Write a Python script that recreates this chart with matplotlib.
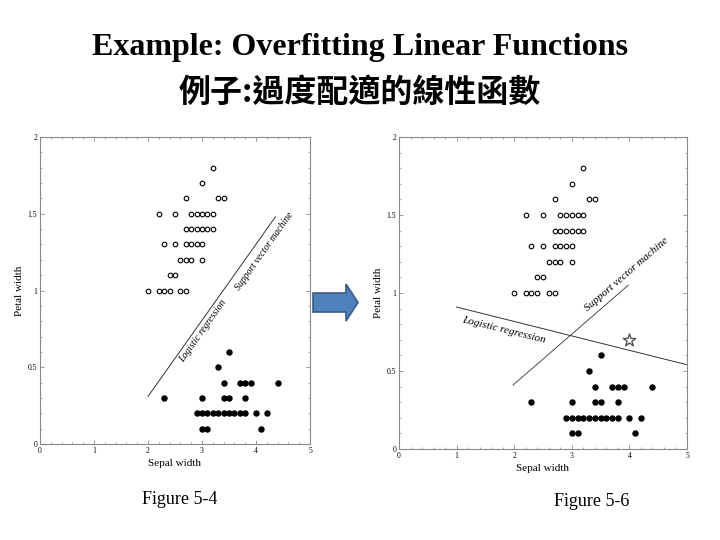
import numpy as np
import matplotlib
matplotlib.use("Agg")
import matplotlib.pyplot as plt
from matplotlib.patches import Polygon
from matplotlib.ticker import MultipleLocator

plt.rcParams['font.family'] = ['Liberation Serif', 'DejaVu Serif']

# Iris data: sepal width vs petal width
open_x = [3.2, 3.0, 2.7, 3.3, 3.4,
          2.2, 2.5, 2.8, 2.9, 3.0, 3.1, 3.2,
          2.7, 2.8, 2.9, 3.0, 3.1, 3.2,
          2.3, 2.5, 2.7, 2.8, 2.9, 3.0,
          2.6, 2.7, 2.8, 3.0,
          2.4, 2.5,
          2.0, 2.2, 2.3, 2.4, 2.6, 2.7]
open_y = [1.8, 1.7, 1.6, 1.6, 1.6,
          1.5, 1.5, 1.5, 1.5, 1.5, 1.5, 1.5,
          1.4, 1.4, 1.4, 1.4, 1.4, 1.4,
          1.3, 1.3, 1.3, 1.3, 1.3, 1.3,
          1.2, 1.2, 1.2, 1.2,
          1.1, 1.1,
          1.0, 1.0, 1.0, 1.0, 1.0, 1.0]

filled_x = [3.5, 3.3,
            3.4, 3.7, 3.8, 3.9, 4.4,
            2.3, 3.0, 3.4, 3.5, 3.8,
            2.9, 3.0, 3.1, 3.2, 3.3, 3.4, 3.5, 3.6, 3.7, 3.8, 4.0, 4.2,
            3.0, 3.1, 4.1]
filled_y = [0.6, 0.5,
            0.4, 0.4, 0.4, 0.4, 0.4,
            0.3, 0.3, 0.3, 0.3, 0.3,
            0.2, 0.2, 0.2, 0.2, 0.2, 0.2, 0.2, 0.2, 0.2, 0.2, 0.2, 0.2,
            0.1, 0.1, 0.1]

# decision boundaries
left_line_x = [2.0, 4.36]
left_line_y = [0.31, 1.48]
logit_x = [1.0, 5.0]
logit_y = [0.91, 0.54]
svm_x = [1.98, 3.98]
svm_y = [0.41, 1.05]
star_x, star_y = [4.0], [0.70]

W, H = 720, 540
fig = plt.figure(figsize=(7.2, 5.4), dpi=100)


def px_axes(left, top, right, bottom):
    return fig.add_axes([left / W, 1 - bottom / H, (right - left) / W, (bottom - top) / H])


def style(ax):
    ax.set_xlim(0, 5)
    ax.set_ylim(0, 2)
    for s in ax.spines.values():
        s.set_color('#888888')
        s.set_linewidth(0.8)
    ax.xaxis.set_major_locator(MultipleLocator(1))
    ax.xaxis.set_minor_locator(MultipleLocator(0.2))
    ax.yaxis.set_major_locator(MultipleLocator(0.5))
    ax.yaxis.set_minor_locator(MultipleLocator(0.1))
    ax.yaxis.set_major_formatter(plt.FuncFormatter(lambda v, p: f"{v:g}"))
    ax.tick_params(which='both', direction='in', top=True, right=True,
                   color='#888888', labelsize=5.5, pad=2)
    ax.tick_params(which='major', length=3, width=0.6)
    ax.tick_params(which='minor', length=1.5, width=0.5)
    ax.set_xlabel("Sepal width", fontsize=8, labelpad=3)
    ax.set_ylabel("Petal width", fontsize=8, labelpad=3)
    ax.scatter(open_x, open_y, s=11, facecolors='white', edgecolors='black', linewidths=0.8, zorder=3)
    ax.scatter(filled_x, filled_y, s=13, color='black', zorder=3)


def angle(ax, xs, ys):
    p = ax.transData.transform(np.column_stack([xs, ys]))
    return np.degrees(np.arctan2(p[1, 1] - p[0, 1], p[1, 0] - p[0, 0]))


# left: Figure 5-4
ax1 = px_axes(40, 137, 310, 444)
style(ax1)
ax1.plot(left_line_x, left_line_y, color='#333333', lw=0.7)
a1 = angle(ax1, left_line_x, left_line_y)
ax1.text(2.68, 0.52, "Logistic regression", rotation=a1, rotation_mode='anchor',
         fontsize=7, style='italic', ha='left', va='bottom')
ax1.text(3.72, 0.99, "Support vector machine", rotation=a1, rotation_mode='anchor',
         fontsize=7, style='italic', ha='left', va='bottom')

# right: Figure 5-6
ax2 = px_axes(399, 137, 687, 449)
style(ax2)
ax2.plot(logit_x, logit_y, color='#333333', lw=0.7)
ax2.plot(svm_x, svm_y, color='#333333', lw=0.6)
ax2.text(1.12, 0.855, "Logistic regression", rotation=angle(ax2, logit_x, logit_y),
         rotation_mode='anchor', fontsize=8, style='italic', ha='left', va='top')
ax2.text(3.3, 0.87, "Support vector machine", rotation=angle(ax2, svm_x, svm_y),
         rotation_mode='anchor', fontsize=8, style='italic', ha='left', va='bottom')
ax2.scatter(star_x, star_y, marker='*', s=90, facecolors='white',
            edgecolors='#555555', linewidths=1.0, zorder=4)

# arrow between the two figures
arrow_px = [(313, 293), (346, 293), (346, 284), (358, 302.5),
            (346, 321), (346, 312), (313, 312)]
arrow = Polygon([(x / W, 1 - y / H) for x, y in arrow_px], closed=True,
                transform=fig.transFigure, facecolor='#4f81bd', edgecolor='#385d8a', lw=1.2)
fig.add_artist(arrow)

# titles and captions
fig.text(0.5, 1 - 48 / H, "Example: Overfitting Linear Functions", ha='center', va='center',
         fontsize=23, fontweight='bold')
fig.text(0.5, 1 - 93 / H, "例子:過度配適的線性函數", ha='center', va='center',
         fontsize=23, fontweight='bold', family=['Noto Sans CJK TC', 'DejaVu Sans'])
fig.text(180 / W, 1 - 500 / H, "Figure 5-4", ha='center', va='center', fontsize=13)
fig.text(592 / W, 1 - 502 / H, "Figure 5-6", ha='center', va='center', fontsize=13)

fig.savefig("out.png", dpi=100)
